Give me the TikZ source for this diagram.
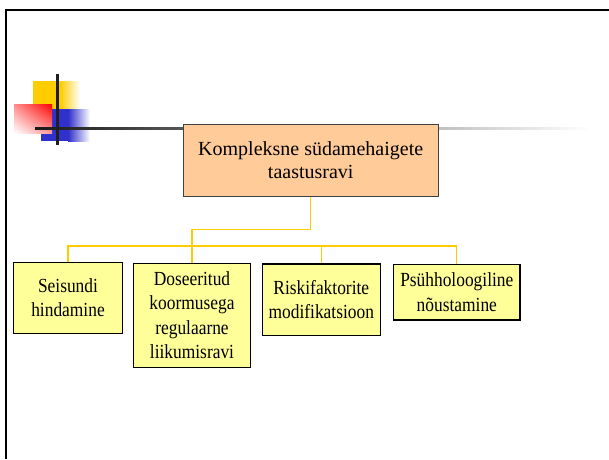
\documentclass[tikz,border=0pt]{standalone}
\usepackage{fontspec}
\setmainfont{Liberation Serif}
\newfontfamily\narrowserif[FakeStretch=0.87]{Liberation Serif}
\usetikzlibrary{shadings}
\definecolor{peach}{HTML}{FFCC99}
\definecolor{lemon}{HTML}{FFFF99}
\definecolor{gold}{HTML}{FFCC00}
\definecolor{logoblue}{HTML}{3030CC}
\tikzset{every node/.style={align=center}}
\tikzstyle{mainbox} = [draw=black!75, line width=1.2, fill=peach, inner sep=0, minimum width=255, minimum height=72, font=\fontsize{20}{23.5}\selectfont]
\tikzstyle{subbox} = [draw=black, line width=1.2, fill=lemon, inner sep=0, font=\narrowserif\fontsize{20}{24.5}\selectfont]
\tikzstyle{link} = [draw=gold, line width=1.3]

\begin{document}
\begin{tikzpicture}[x=1pt, y=-1pt]
		\useasboundingbox (0,0) rectangle (609,459);
		
		% Frame
		\draw[line width=2.5] (6,459) -- (6,10) -- (609,10);
		
		% Logo
		%% Yellow square
		\fill[gold] (33,81) rectangle (60,109);
		\shade[left color=gold, right color=white] (60,81) rectangle (80,109);
		%% Blue square
		\fill[logoblue] (41,109) rectangle (68,141);
		\shade[left color=logoblue, right color=white] (68,109) rectangle (90,141);
		%% Red square
		\shade[upper right=red, upper left=red!45, lower right=red!40, lower left=white] (14,104) rectangle (52,133);
		%% Lines
		\shade[left color=black!90, right color=white] (35,127) rectangle (590,129.2);
		\draw[line width=3, draw=black!88] (57.3,74) -- (57.3,145);
		
		% Nodes
		\node[mainbox] (main) at (310.7,160.2) {Kompleksne südamehaigete\\taastusravi};
		\node[subbox, minimum width=109.4, minimum height=71] (b1) at (68,297.8) {Seisundi\\hindamine};
		\node[subbox, minimum width=117.4, minimum height=104] (b2) at (192,315.3) {Doseeritud\\koormusega\\regulaarne\\liikumisravi};
		\node[subbox, minimum width=118, minimum height=71.3] (b3) at (321.3,299.7) {Riskifaktorite\\modifikatsioon};
		\node[subbox, minimum width=126.3, minimum height=55.7] (b4) at (456.8,292.2) {Psühholoogiline\\nõustamine};
		
		% Links
		\coordinate (split) at (192,229.3);
		\coordinate (bus) at (192,246);
		\draw[link] (main.south) |- (split) -- (b2.north);
		\draw[link] (b1.north) |- (bus) -| (b4.north);
		\draw[link] (b3.north) -- (b3.north |- bus);
	\end{tikzpicture}
\end{document}
